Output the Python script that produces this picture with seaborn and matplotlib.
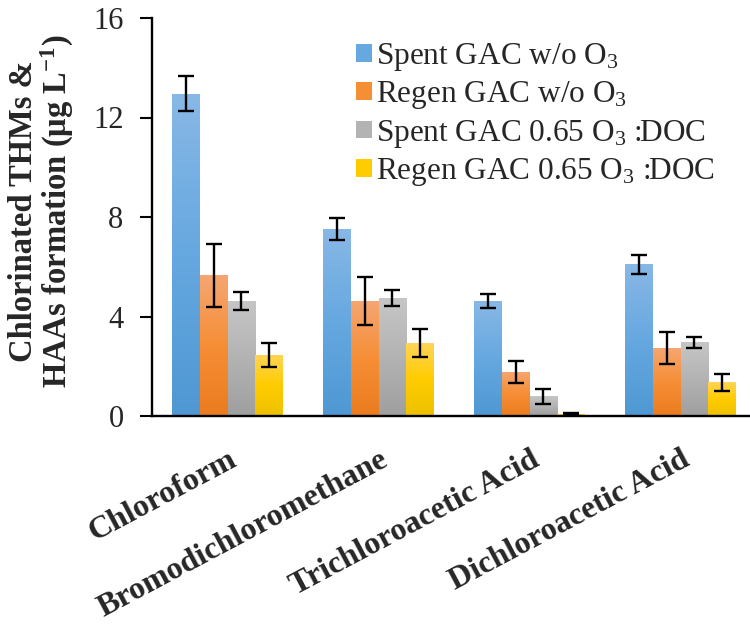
import numpy as np
import pandas as pd
import matplotlib
matplotlib.use("Agg")
import matplotlib.pyplot as plt
import matplotlib.transforms as mtransforms
from matplotlib.colors import LinearSegmentedColormap
import seaborn as sns

# ---- data -------------------------------------------------------------
compounds = ["Chloroform", "Bromodichloromethane",
             "Trichloroacetic Acid", "Dichloroacetic Acid"]
series = ["Spent GAC w/o O$_3$", "Regen GAC w/o O$_3$",
          "Spent GAC 0.65 O$_3$ :DOC", "Regen GAC 0.65 O$_3$ :DOC"]

spent_wo = [12.95, 7.52, 4.62, 6.10]
spent_wo_err = [0.70, 0.45, 0.27, 0.39]
regen_wo = [5.65, 4.62, 1.77, 2.73]
regen_wo_err = [1.26, 0.97, 0.43, 0.65]
spent_o3 = [4.64, 4.74, 0.80, 2.97]
spent_o3_err = [0.36, 0.33, 0.30, 0.22]
regen_o3 = [2.46, 2.93, 0.07, 1.35]
regen_o3_err = [0.49, 0.55, 0.04, 0.33]

yticks = [0, 4, 8, 12, 16]

# bottom -> middle -> top colour stops of each series' gradient fill
gradients = [
    ["#4F98D3", "#66A8E0", "#88B8E6"],
    ["#EB7C1F", "#F68E36", "#F5A672"],
    ["#9F9F9F", "#B3B3B3", "#C6C6C6"],
    ["#EDC100", "#FFCC00", "#FFD458"],
]
solid = [g[1] for g in gradients]

values = [spent_wo, regen_wo, spent_o3, regen_o3]
errors = [spent_wo_err, regen_wo_err, spent_o3_err, regen_o3_err]

df = pd.DataFrame({
    "compound": [c for _ in series for c in compounds],
    "series": [s for s in series for _ in compounds],
    "value": [v for vals in values for v in vals],
})

# ---- style ------------------------------------------------------------
sns.set_style("white")
plt.rcParams["font.family"] = ["Liberation Serif", "DejaVu Serif"]
plt.rcParams["mathtext.fontset"] = "custom"
plt.rcParams["mathtext.rm"] = "Liberation Serif"
plt.rcParams["mathtext.it"] = "Liberation Serif:italic"
plt.rcParams["mathtext.bf"] = "Liberation Serif:bold"

fig = plt.figure(figsize=(7.5, 6.27), dpi=100)
ax = fig.add_axes([152 / 750, 1 - 416 / 627, 604 / 750, 398 / 627])

sns.barplot(data=df, x="compound", y="value", hue="series",
            order=compounds, hue_order=series, palette=solid,
            width=0.73, errorbar=None, saturation=1, linewidth=0,
            ax=ax, legend=True)

# gradient fills clipped to each bar, plus error bars
grad = np.linspace(0, 1, 256).reshape(-1, 1)
for cont, stops, errs in zip(ax.containers, gradients, errors):
    cmap = LinearSegmentedColormap.from_list("bar", stops)
    xs, hs = [], []
    for bar in cont:
        x0, w, h = bar.get_x(), bar.get_width(), bar.get_height()
        im = ax.imshow(grad, cmap=cmap, extent=[x0, x0 + w, 0, h],
                       origin="lower", aspect="auto",
                       zorder=bar.get_zorder() + 0.1,
                       interpolation="bilinear")
        im.set_clip_path(bar)
        xs.append(x0 + w / 2)
        hs.append(h)
    ax.errorbar(xs, hs, yerr=errs, fmt="none", ecolor="black",
                elinewidth=1.7, capsize=5.8, capthick=1.7, zorder=5)

ax.set_xlim(-0.5, 3.5)
ax.set_ylim(0, 16)
ax.set_yticks(yticks)
ax.set_yticklabels([str(t) for t in yticks], fontsize=22)

for side in ["top", "right"]:
    ax.spines[side].set_visible(False)
for side in ["left", "bottom"]:
    ax.spines[side].set_color("black")
    ax.spines[side].set_linewidth(1.7)

ax.tick_params(axis="y", direction="out", length=8.5, width=1.5,
               color="black", pad=12, left=True)
ax.tick_params(axis="x", length=0, pad=21)

ax.set_xlabel("")
ax.set_xticks(range(len(compounds)))
ax.set_xticklabels(compounds, rotation=28, ha="right", va="top",
                   rotation_mode="anchor", fontsize=23, fontweight="bold")
shift = mtransforms.ScaledTranslation(0.5 / 72, 0, fig.dpi_scale_trans)
for lab in ax.get_xticklabels():
    lab.set_transform(lab.get_transform() + shift)

ax.set_ylabel("Chlorinated THMs &\nHAAs formation (μg L$^{\\mathbf{-1}}$)",
              fontsize=23.5, fontweight="bold", linespacing=1.0,
              va="center")
ax.yaxis.set_label_coords(-0.182, 0.515)

handles, labels = ax.get_legend_handles_labels()
ax.legend(handles, labels, loc="upper left",
          bbox_to_anchor=(356 / 750, 1 - 41 / 627),
          bbox_transform=fig.transFigure, frameon=False, fontsize=22.5,
          handlelength=0.5, handleheight=0.5, handletextpad=0.15,
          labelspacing=0.2, borderpad=0, borderaxespad=0)

fig.savefig("out.png", dpi=100)
